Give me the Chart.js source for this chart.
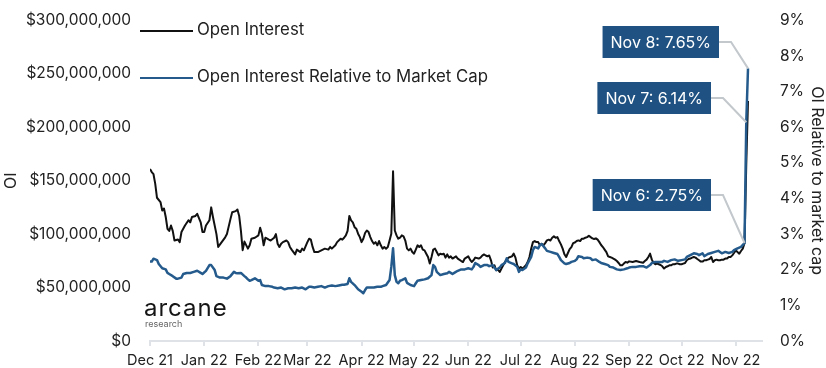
<!DOCTYPE html>
<html>
<head>
<meta charset="utf-8">
<script src="https://cdn.jsdelivr.net/npm/chart.js@4.4.0/dist/chart.umd.min.js"></script>
<style>
	body { margin: 0; background: #fff; }
	canvas { display: block; }
</style>
</head>
<body>
<canvas id="chart" width="826" height="368"></canvas>
<script>
// x values are days counted from 1 Dec 2021
const monthDays = [0, 31, 62, 90, 121, 151, 182, 212, 243, 274, 304, 335];
const monthLabels = ['Dec 21', 'Jan 22', 'Feb 22', 'Mar 22', 'Apr 22', 'May 22', 'Jun 22', 'Jul 22', 'Aug 22', 'Sep 22', 'Oct 22', 'Nov 22'];
const monthNames = ['Jan', 'Feb', 'Mar', 'Apr', 'May', 'Jun', 'Jul', 'Aug', 'Sep', 'Oct', 'Nov', 'Dec'];

// open interest, $ millions
const oiDays = [
	0, 1, 2, 3, 4, 6, 7, 8, 9, 10, 11, 12, 13, 14, 16, 17, 18, 20, 22, 23, 24, 26, 27, 29, 30, 31, 32, 34, 35, 36,
	38, 39, 41, 43, 44, 46, 47, 49, 50, 51, 52, 53, 54, 56, 57, 58, 60, 62, 63, 64, 65, 66, 68, 69, 71, 72, 73, 74, 75, 76,
	78, 79, 80, 81, 83, 84, 86, 87, 88, 90, 91, 92, 93, 94, 96, 98, 100, 102, 103, 104, 106, 107, 109, 110, 111, 112, 113, 114, 115, 116,
	117, 118, 119, 120, 121, 122, 123, 124, 125, 126, 127, 128, 129, 130, 131, 132, 133, 134, 135, 136, 137, 138, 139, 140, 141, 142, 143, 144, 145, 146,
	147, 148, 149, 150, 151, 152, 153, 154, 155, 156, 157, 158, 159, 160, 161, 162, 163, 164, 165, 166, 167, 168, 169, 170, 171, 172, 173, 175, 176, 178,
	179, 180, 182, 183, 184, 185, 186, 188, 189, 190, 191, 192, 193, 194, 195, 196, 197, 198, 199, 200, 201, 202, 203, 204, 205, 206, 207, 208, 209, 210,
	211, 212, 213, 214, 215, 216, 217, 218, 219, 220, 221, 222, 223, 224, 225, 226, 227, 228, 229, 230, 231, 232, 233, 234, 235, 236, 237, 238, 239, 240,
	241, 242, 243, 244, 245, 246, 247, 248, 249, 250, 251, 252, 253, 254, 255, 256, 257, 258, 259, 260, 261, 262, 263, 264, 265, 266, 267, 268, 269, 270,
	271, 272, 273, 274, 276, 278, 280, 282, 283, 284, 285, 286, 287, 288, 289, 290, 291, 292, 293, 294, 295, 296, 297, 298, 299, 300, 301, 302, 303, 304,
	305, 306, 307, 308, 309, 310, 311, 312, 313, 314, 315, 316, 317, 318, 319, 320, 321, 322, 323, 324, 325, 326, 327, 328, 329, 330, 331, 332, 333, 334,
	335, 336, 337, 338, 339, 340, 341, 342
];
const oiValues = [
	161, 158, 156, 147, 134, 130, 122, 124, 116, 105, 103, 108, 103, 94, 95, 92.5, 102, 108, 113, 111, 116, 117, 119, 111, 102, 102, 108, 113, 125, 116,
	100, 88, 92.5, 97, 100, 114, 120.5, 121.5, 123, 117, 103, 85, 93, 86.4, 89.5, 95.7, 96.6, 98.8, 106, 100, 89.5, 96.6, 94.8, 94, 96.6, 100, 91, 88, 91, 92.5,
	94, 92.5, 88, 85.5, 81, 85.5, 83.2, 86.4, 84.8, 92.5, 95.7, 94.8, 88, 83.2, 83.2, 84.8, 86.4, 85.5, 88, 86.4, 89.5, 92.5, 95.7, 94.8, 96.6, 98.8, 103, 117, 112.8, 111,
	106.5, 105, 100.4, 97.2, 92.5, 95.7, 101, 103.4, 101.9, 97.2, 93.5, 91, 92.5, 89.5, 93.5, 89.5, 86.4, 87.9, 86.4, 87.9, 94, 100.4, 158.7, 103.4, 98.8, 95.7, 96.6, 98.8, 97.9, 94,
	86.4, 84.8, 86.4, 83.2, 81.7, 85.5, 89.5, 87.9, 89.5, 85.5, 84.8, 81.7, 78.6, 72.4, 78.6, 85.5, 86.4, 83.2, 80.1, 81.7, 81, 81.7, 78, 81, 78, 79.2, 77.1, 79.2, 77.1, 74.8,
	73.9, 77.1, 79.2, 76.1, 73.9, 75.5, 78, 77.1, 78, 79.9, 81, 80, 79.2, 80, 75.5, 68.7, 70.8, 66.2, 66.8, 64.6, 67.8, 70.8, 73.9, 76.1, 78, 78.6, 79.2, 81.7, 78, 70.8,
	67.8, 69.2, 67.8, 69.2, 70.8, 73.9, 78.6, 86.4, 92.5, 93.5, 92.5, 92.5, 89.5, 91, 89.5, 91.6, 94.1, 94.8, 94, 96.6, 97.9, 96.6, 97.2, 93.5, 90.4, 86.4, 81.1, 78.6, 82.3, 86,
	87.9, 91.6, 92.2, 93.5, 94.1, 93.5, 95.7, 95.7, 96.6, 97.2, 98.5, 97.2, 96, 95.4, 96, 94.8, 92.5, 89.8, 87.9, 85.5, 83.2, 79.2, 78.6, 78, 77.1, 76.1, 74.8, 73, 70.8, 70.8,
	72.4, 73.9, 73.3, 74.5, 73.9, 74.8, 73.9, 73.3, 74.8, 76.1, 78.6, 81.7, 76.1, 73, 71.8, 72.4, 71.8, 71.1, 69.9, 67.8, 69.2, 69.9, 70.8, 70.8, 71.8, 71.8, 72.4, 72.4, 71.8, 71.8,
	72.4, 73, 75.5, 76.7, 77.1, 78, 78.6, 78, 76.7, 75.5, 74.3, 74.3, 75.5, 75.5, 76.1, 76.7, 78.6, 73.9, 75.5, 76.1, 75.5, 75.5, 76.1, 76.1, 77.1, 77.1, 78.6, 78.6, 80.1, 82.3,
	84.8, 83.2, 81.7, 84.2, 86.4, 91.6, 165, 224.6
];

// open interest relative to market cap, %
const ratioDays = [
	0, 1, 2, 4, 5, 7, 9, 10, 11, 13, 15, 16, 18, 19, 21, 23, 25, 27, 29, 30, 32, 34, 35, 37, 38, 40, 42, 44, 46, 48,
	49, 50, 52, 54, 55, 56, 57, 58, 60, 62, 63, 64, 66, 68, 70, 71, 73, 75, 77, 79, 81, 83, 85, 87, 89, 91, 92, 94, 96, 98,
	100, 102, 104, 106, 108, 110, 111, 113, 114, 115, 117, 119, 121, 122, 123, 124, 126, 128, 130, 132, 133, 135, 137, 138, 139, 140, 141, 142, 143, 144,
	146, 147, 149, 151, 152, 153, 155, 157, 159, 161, 162, 163, 164, 166, 168, 170, 171, 172, 173, 174, 176, 178, 180, 182, 184, 185, 186, 188, 189, 191,
	193, 194, 196, 197, 198, 200, 201, 203, 204, 205, 207, 208, 210, 211, 212, 213, 215, 216, 218, 219, 220, 222, 223, 224, 226, 227, 229, 231, 233, 234,
	235, 237, 238, 240, 241, 243, 244, 245, 247, 248, 250, 252, 253, 255, 257, 258, 260, 262, 263, 265, 267, 269, 271, 273, 274, 276, 278, 280, 282, 284,
	286, 287, 289, 291, 293, 294, 296, 298, 300, 302, 304, 306, 307, 309, 311, 313, 314, 316, 317, 319, 321, 323, 325, 327, 329, 331, 333, 334, 336, 338,
	340, 341, 342
];
const ratioValues = [
	2.23, 2.23, 2.31, 2.27, 2.16, 2.04, 2.01, 1.91, 1.88, 1.82, 1.75, 1.75, 1.78, 1.88, 1.91, 1.91, 1.94, 1.97, 1.91, 1.88, 1.97, 2.13, 2.13, 1.99, 1.82, 1.78, 1.78, 1.75, 1.82, 1.94,
	1.91, 1.90, 1.91, 1.82, 1.78, 1.73, 1.69, 1.71, 1.76, 1.69, 1.71, 1.57, 1.54, 1.54, 1.52, 1.50, 1.48, 1.50, 1.45, 1.48, 1.48, 1.50, 1.48, 1.50, 1.45, 1.52, 1.52, 1.50, 1.52, 1.54,
	1.50, 1.54, 1.56, 1.54, 1.56, 1.58, 1.58, 1.60, 1.76, 1.66, 1.57, 1.45, 1.38, 1.34, 1.43, 1.50, 1.50, 1.50, 1.52, 1.52, 1.54, 1.57, 1.71, 2.08, 2.60, 1.85, 1.66, 1.62, 1.69, 1.71,
	1.76, 1.63, 1.57, 1.54, 1.62, 1.69, 1.71, 1.73, 1.76, 1.85, 2.13, 2.08, 1.94, 1.85, 1.88, 1.90, 1.94, 1.91, 1.88, 1.91, 1.97, 2.01, 2.01, 2.04, 2.01, 2.08, 2.19, 2.13, 2.08, 2.13,
	2.13, 2.10, 2.13, 2.06, 1.99, 2.06, 2.13, 2.19, 2.32, 2.22, 2.18, 2.16, 2.08, 1.94, 2.01, 1.99, 2.06, 2.18, 2.36, 2.55, 2.64, 2.60, 2.69, 2.72, 2.60, 2.53, 2.50, 2.47, 2.44, 2.36,
	2.27, 2.18, 2.16, 2.19, 2.22, 2.25, 2.29, 2.38, 2.36, 2.32, 2.34, 2.32, 2.27, 2.29, 2.22, 2.19, 2.16, 2.13, 2.08, 2.06, 2.01, 1.99, 2.01, 2.04, 2.06, 2.08, 2.08, 2.10, 2.10, 2.06,
	2.13, 2.19, 2.22, 2.22, 2.22, 2.25, 2.22, 2.27, 2.29, 2.25, 2.27, 2.29, 2.36, 2.41, 2.46, 2.44, 2.41, 2.46, 2.38, 2.44, 2.47, 2.50, 2.53, 2.46, 2.50, 2.47, 2.50, 2.55, 2.60, 2.64,
	2.75, 6.14, 7.65
];

// days that get a callout box
const noteDays = [340, 341, 342];

const BLACK = '#111111';
const BLUE = '#245b8c';
const BOX = '#1f5282';
const TEXT = '#222222';
const FONT = "Inter, 'Open Sans', sans-serif";

Chart.defaults.font.family = FONT;
Chart.defaults.font.size = 15.5;
Chart.defaults.color = TEXT;

function toPoints(days, values) {
	return days.map((d, i) => ({ x: d, y: values[i] }));
}

function dayLabel(d) {
	const date = new Date(2021, 11, 1 + d);
	return `${monthNames[date.getMonth()]} ${date.getDate()}`;
}

function money(v) {
	return '$' + (v * 1e6).toLocaleString('en-US');
}

// legend, logo and callouts are drawn straight onto the canvas
const extras = {
	id: 'extras',
	afterDatasetsDraw(chart) {
		const ctx = chart.ctx;
		const x = chart.scales.x;
		const y1 = chart.scales.y1;

		ctx.save();

		// legend
		const legend = [
			{ text: 'Open Interest', color: BLACK, y: 31 },
			{ text: 'Open Interest Relative to Market Cap', color: BLUE, y: 78 },
		];
		legend.forEach(item => {
			ctx.strokeStyle = item.color;
			ctx.lineWidth = 2;
			ctx.beginPath();
			ctx.moveTo(140, item.y);
			ctx.lineTo(193, item.y);
			ctx.stroke();
			ctx.fillStyle = TEXT;
			ctx.font = `16.8px ${FONT}`;
			ctx.textBaseline = 'middle';
			ctx.textAlign = 'left';
			ctx.fillText(item.text, 197, item.y - 1);
		});

		// logo
		ctx.fillStyle = '#151515';
		ctx.font = `24px ${FONT}`;
		ctx.letterSpacing = '1px';
		ctx.textBaseline = 'alphabetic';
		ctx.fillText('arcane', 144, 316);
		ctx.letterSpacing = '0px';
		ctx.fillStyle = '#666';
		ctx.font = `9px ${FONT}`;
		ctx.fillText('research', 145, 327);

		// callouts: box right edge and centre line
		const boxes = [
			{ right: 711, cy: 195 },
			{ right: 711, cy: 98 },
			{ right: 719, cy: 42 },
		];
		noteDays.forEach((d, i) => {
			const v = ratioValues[ratioDays.indexOf(d)];
			const px = x.getPixelForValue(d);
			const py = y1.getPixelForValue(v);
			const b = boxes[i];
			const label = `${dayLabel(d)}: ${v.toFixed(2)}%`;

			ctx.font = `16px ${FONT}`;
			const w = ctx.measureText(label).width + 16;

			ctx.strokeStyle = '#c3c8cd';
			ctx.lineWidth = 2;
			ctx.beginPath();
			ctx.moveTo(b.right, b.cy);
			ctx.lineTo(b.right + 12, b.cy);
			ctx.lineTo(px, py);
			ctx.stroke();

			ctx.fillStyle = BOX;
			ctx.fillRect(b.right - w, b.cy - 16, w, 32);
			ctx.fillStyle = '#fff';
			ctx.textAlign = 'center';
			ctx.textBaseline = 'middle';
			ctx.fillText(label, b.right - w / 2, b.cy + 1);
		});

		ctx.restore();
	}
};

window.onload = function() {
	const ctx = document.getElementById('chart').getContext('2d');
	new Chart(ctx, {
		type: 'line',
		data: {
			datasets: [
				{
					label: 'Open Interest Relative to Market Cap',
					data: toPoints(ratioDays, ratioValues),
					yAxisID: 'y1',
					borderColor: BLUE,
					borderWidth: 2.5,
					order: 0,
				},
				{
					label: 'Open Interest',
					data: toPoints(oiDays, oiValues),
					yAxisID: 'y',
					borderColor: BLACK,
					borderWidth: 2,
					order: 1,
				},
			],
		},
		options: {
			responsive: false,
			animation: false,
			devicePixelRatio: 1,
			layout: { padding: { top: 14, left: 0, right: 0, bottom: 0 } },
			elements: {
				point: { radius: 0 },
				line: { tension: 0, borderJoinStyle: 'round', fill: false },
			},
			plugins: {
				legend: { display: false },
				tooltip: { enabled: false },
			},
			scales: {
				x: {
					type: 'linear',
					min: 0,
					max: 350,
					afterBuildTicks: s => { s.ticks = monthDays.map(v => ({ value: v })); },
					afterFit: s => { s.height = 27; },
					ticks: {
						autoSkip: false,
						maxRotation: 0,
						padding: 6,
						font: { size: 14.5 },
						callback: v => monthLabels[monthDays.indexOf(v)],
					},
					grid: { drawOnChartArea: false, tickLength: 5, color: '#dfe3e7', lineWidth: 2 },
					border: { color: '#dfe3e7', width: 2 },
				},
				y: {
					position: 'left',
					min: 0,
					max: 300,
					afterFit: s => { s.width = 150; },
					ticks: { stepSize: 50, padding: 11, callback: v => money(v) },
					grid: { display: false },
					border: { display: false },
					title: { display: true, text: 'OI', font: { size: 16 }, padding: { top: 2, bottom: 2 } },
				},
				y1: {
					position: 'right',
					min: 0,
					max: 9,
					afterFit: s => { s.width = 64; },
					ticks: { stepSize: 1, padding: 10, callback: v => `${v}%` },
					grid: { display: false },
					border: { display: false },
					title: { display: true, text: 'OI Relative to market cap', font: { size: 16 }, padding: { top: 0, bottom: 2 } },
				},
			},
		},
		plugins: [extras],
	});
};
</script>
</body>
</html>
